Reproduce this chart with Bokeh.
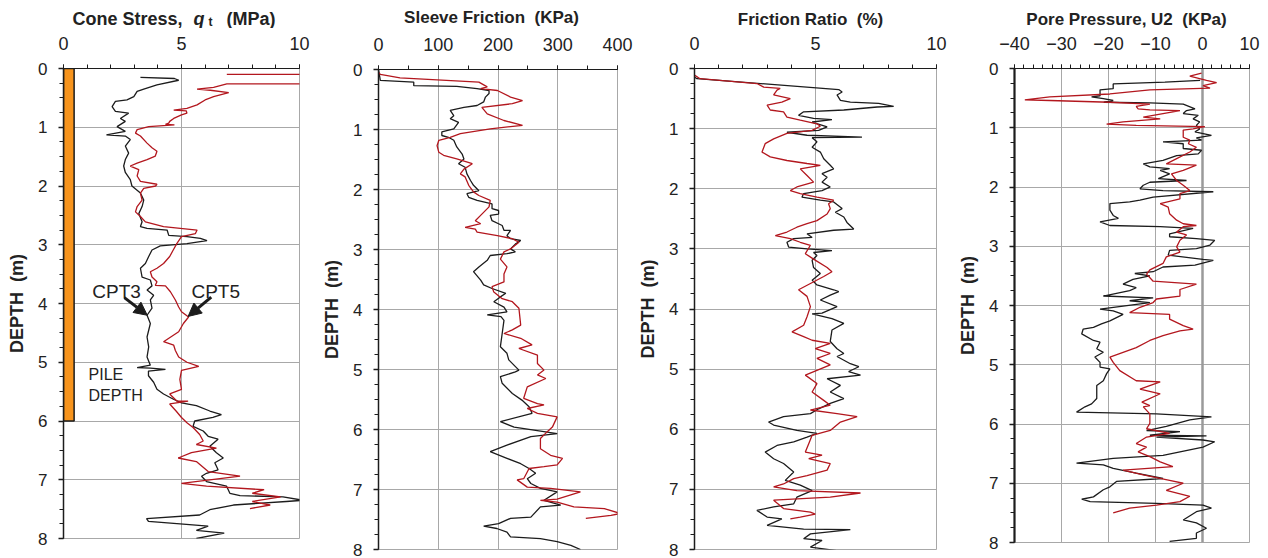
from bokeh.plotting import figure
from bokeh.layouts import row, column
from bokeh.models import Range1d, FixedTicker, Label, Arrow, NormalHead, Span
from bokeh.embed import file_html
from bokeh.resources import INLINE

# ---------------- DATA ----------------
depth_ticks = [0, 1, 2, 3, 4, 5, 6, 7, 8]

# Cone stress qt (MPa)
qt_cpt3_depth = [0.15, 0.17, 0.2, 0.28, 0.35, 0.39, 0.48, 0.535, 0.56, 0.65, 0.73, 0.76, 0.85, 0.9, 0.99, 1.07, 1.13, 1.15, 1.21, 1.32, 1.44, 1.55, 1.66, 1.77, 1.89, 2.0, 2.12, 2.24, 2.35, 2.47, 2.61, 2.69, 2.72, 2.75, 2.84, 2.86, 2.89, 2.93, 2.98, 3.02, 3.09, 3.2, 3.32, 3.4, 3.55, 3.6, 3.7, 3.77, 3.86, 3.94, 4.08, 4.2, 4.34, 4.57, 4.74, 4.91, 5.05, 5.09, 5.1, 5.12, 5.15, 5.23, 5.34, 5.46, 5.54, 5.63, 5.69, 5.74, 5.83, 5.89, 5.94, 6.0, 6.09, 6.17, 6.26, 6.31, 6.43, 6.54, 6.63, 6.71, 6.83, 6.89, 6.94, 7.03, 7.11, 7.23, 7.27, 7.29, 7.35, 7.37, 7.43, 7.51, 7.6, 7.66, 7.71, 7.75, 7.79, 7.86, 7.91, 8.0]
qt_cpt3_value = [3.26, 4.7, 4.88, 3.96, 3.4, 3.12, 2.98, 2.69, 2.2, 2.06, 2.2, 2.76, 2.41, 2.62, 2.27, 2.62, 1.82, 2.62, 2.83, 2.62, 2.76, 2.62, 2.55, 2.62, 2.83, 2.9, 3.26, 3.4, 3.33, 3.19, 3.33, 3.26, 3.54, 4.39, 4.46, 5.23, 5.8, 6.08, 5.23, 4.1, 3.75, 3.61, 3.47, 3.26, 3.33, 3.68, 3.75, 3.54, 3.82, 3.68, 3.75, 3.54, 3.68, 3.54, 3.61, 3.54, 3.68, 3.12, 3.68, 4.32, 3.6, 3.6, 3.82, 3.96, 4.24, 4.66, 5.0, 5.63, 6.2, 6.69, 6.33, 5.56, 5.49, 5.92, 6.13, 6.55, 6.2, 6.48, 6.77, 6.41, 6.55, 6.06, 5.85, 6.06, 6.91, 7.05, 7.48, 9.3, 10.15, 9.44, 7.2, 6.2, 5.77, 3.52, 3.6, 4.94, 6.13, 5.63, 6.81, 5.63]
qt_cpt5_depth = [0.1, 0.1, 0.26, 0.26, 0.32, 0.35, 0.37, 0.41, 0.48, 0.535, 0.62, 0.68, 0.71, 0.72, 0.76, 0.79, 0.85, 0.9, 0.93, 0.95, 0.96, 0.99, 1.04, 1.1, 1.15, 1.27, 1.35, 1.41, 1.49, 1.55, 1.61, 1.66, 1.72, 1.83, 1.92, 1.97, 2.0, 2.04, 2.12, 2.24, 2.35, 2.44, 2.52, 2.61, 2.69, 2.75, 2.81, 2.86, 2.98, 3.09, 3.2, 3.32, 3.4, 3.46, 3.55, 3.63, 3.69, 3.7, 3.8, 3.94, 4.06, 4.14, 4.23, 4.34, 4.48, 4.65, 4.71, 4.8, 4.91, 5.0, 5.07, 5.14, 5.29, 5.46, 5.54, 5.66, 5.66, 5.71, 5.83, 5.94, 6.03, 6.11, 6.23, 6.34, 6.4, 6.46, 6.54, 6.63, 6.69, 6.86, 6.94, 7.06, 7.11, 7.17, 7.23, 7.29, 7.37, 7.43, 7.49]
qt_cpt5_value = [6.92, 10.4, 10.4, 6.92, 6.36, 5.66, 6.22, 7.0, 6.36, 6.0, 5.66, 5.23, 4.67, 5.2, 5.23, 5.0, 4.67, 4.5, 4.46, 4.32, 4.7, 3.61, 3.12, 3.05, 3.26, 3.54, 3.75, 3.96, 3.89, 3.54, 3.12, 2.83, 3.19, 3.12, 3.26, 3.96, 3.9, 3.4, 3.26, 3.33, 3.12, 3.05, 3.26, 3.47, 4.24, 5.66, 5.59, 5.0, 4.8, 4.65, 4.5, 4.24, 3.96, 3.68, 3.75, 3.96, 3.89, 4.32, 4.53, 4.74, 4.88, 5.0, 5.3, 5.08, 4.88, 4.24, 4.67, 4.74, 4.88, 5.23, 5.73, 5.0, 4.93, 5.0, 4.5, 4.8, 5.28, 4.5, 4.77, 5.0, 5.23, 5.49, 5.77, 5.92, 5.63, 6.48, 5.42, 4.86, 5.63, 6.13, 7.48, 5.0, 6.06, 8.5, 8.0, 9.2, 8.0, 8.76, 7.9]
pile_top = [0.0]
pile_bottom = [6.0]
pile_width = [0.45]

# Sleeve friction (KPa)
fs_cpt3_depth = [0.0, 0.12, 0.18, 0.21, 0.27, 0.28, 0.32, 0.35, 0.4, 0.46, 0.54, 0.6, 0.63, 0.68, 0.77, 0.82, 0.88, 0.99, 1.04, 1.1, 1.13, 1.18, 1.29, 1.41, 1.49, 1.57, 1.63, 1.74, 1.85, 1.93, 2.02, 2.07, 2.13, 2.18, 2.24, 2.32, 2.35, 2.41, 2.43, 2.52, 2.6, 2.68, 2.68, 2.77, 2.82, 2.85, 2.91, 2.99, 3.04, 3.07, 3.1, 3.18, 3.29, 3.37, 3.51, 3.59, 3.65, 3.73, 3.79, 3.87, 3.96, 4.04, 4.09, 4.12, 4.18, 4.4, 4.62, 4.73, 4.84, 5.01, 5.04, 5.12, 5.23, 5.4, 5.51, 5.62, 5.73, 5.87, 5.96, 6.07, 6.12, 6.26, 6.37, 6.48, 6.57, 6.65, 6.73, 6.82, 6.9, 6.98, 7.04, 7.18, 7.26, 7.29, 7.46, 7.48, 7.57, 7.61, 7.65, 7.71, 7.79, 7.82, 7.87, 7.93, 8.0]
fs_cpt3_value = [0, 2, 3, 59, 59, 131, 165, 185, 185, 179, 176, 165, 143, 120, 126, 120, 134, 126, 106, 106, 117, 126, 131, 140, 143, 134, 145, 148, 154, 159, 168, 148, 151, 165, 190, 190, 201, 201, 187, 190, 207, 210, 221, 215, 221, 238, 229, 221, 229, 215, 187, 182, 168, 159, 171, 176, 190, 213, 204, 193, 210, 215, 182, 205, 210, 207, 204, 215, 218, 235, 229, 204, 207, 224, 240, 252, 257, 204, 227, 299, 255, 215, 187, 215, 238, 252, 263, 249, 255, 271, 299, 277, 305, 271, 255, 221, 201, 176, 198, 215, 221, 271, 299, 322, 338]
fs_cpt5_depth = [0.05, 0.08, 0.14, 0.21, 0.29, 0.32, 0.35, 0.46, 0.52, 0.57, 0.63, 0.74, 0.85, 0.93, 0.99, 1.07, 1.13, 1.18, 1.27, 1.38, 1.43, 1.49, 1.57, 1.66, 1.74, 1.79, 1.93, 2.04, 2.1, 2.18, 2.29, 2.41, 2.52, 2.57, 2.63, 2.66, 2.71, 2.77, 2.82, 2.88, 2.99, 3.04, 3.16, 3.29, 3.41, 3.54, 3.62, 3.71, 3.82, 3.87, 3.98, 4.26, 4.34, 4.4, 4.48, 4.59, 4.65, 4.76, 4.9, 5.01, 5.09, 5.15, 5.29, 5.48, 5.57, 5.59, 5.65, 5.73, 5.79, 5.96, 6.04, 6.15, 6.32, 6.43, 6.48, 6.59, 6.62, 6.65, 6.82, 6.84, 6.96, 6.98, 7.04, 7.16, 7.18, 7.21, 7.29, 7.32, 7.4, 7.43, 7.48]
fs_cpt5_value = [0, 3, 36, 168, 182, 171, 199, 221, 241, 224, 173, 182, 210, 241, 187, 137, 120, 101, 98, 101, 109, 131, 157, 143, 137, 145, 151, 159, 168, 187, 185, 173, 162, 171, 145, 162, 165, 199, 224, 235, 221, 210, 204, 215, 210, 210, 190, 193, 207, 224, 235, 238, 224, 210, 238, 257, 235, 266, 266, 277, 266, 280, 249, 243, 266, 277, 249, 266, 299, 291, 282, 271, 271, 288, 308, 299, 277, 252, 243, 232, 249, 288, 338, 299, 271, 299, 327, 378, 405, 389, 347]

# Friction ratio (%)
fr_cpt3_depth = [0.14, 0.17, 0.35, 0.39, 0.44, 0.53, 0.56, 0.58, 0.63, 0.64, 0.69, 0.72, 0.78, 0.83, 0.85, 0.89, 0.97, 1.03, 1.06, 1.11, 1.14, 1.15, 1.22, 1.31, 1.39, 1.5, 1.61, 1.67, 1.75, 1.81, 1.89, 1.97, 2.03, 2.08, 2.14, 2.19, 2.22, 2.33, 2.39, 2.47, 2.56, 2.67, 2.69, 2.75, 2.81, 2.83, 2.89, 2.97, 3.0, 3.03, 3.06, 3.11, 3.19, 3.31, 3.41, 3.52, 3.6, 3.68, 3.71, 3.77, 3.85, 3.96, 4.07, 4.08, 4.16, 4.24, 4.35, 4.54, 4.66, 4.74, 4.79, 4.91, 4.96, 5.04, 5.1, 5.16, 5.27, 5.38, 5.49, 5.57, 5.66, 5.74, 5.79, 5.88, 5.93, 6.02, 6.07, 6.13, 6.21, 6.27, 6.38, 6.49, 6.57, 6.71, 6.85, 6.93, 7.02, 7.13, 7.24, 7.29, 7.35, 7.46, 7.49, 7.6, 7.66, 7.67, 7.74, 7.82, 7.85, 7.96, 8.02]
fr_cpt3_value = [0, 0.1, 5.96, 6.1, 5.89, 6.03, 6.44, 7.61, 8.23, 7.55, 6.17, 4.51, 4.3, 4.92, 5.68, 4.86, 5.48, 5.13, 3.82, 4.65, 6.92, 4.86, 5.06, 4.86, 5.2, 5.34, 5.61, 5.75, 5.27, 5.48, 5.27, 5.61, 5.27, 4.51, 4.44, 5.2, 5.75, 6.1, 5.82, 6.17, 6.3, 6.58, 5.75, 4.65, 4.86, 4.1, 3.82, 3.89, 4.65, 5.68, 4.92, 5.06, 4.86, 4.92, 5.2, 4.86, 5.06, 5.75, 5.96, 5.61, 5.2, 5.89, 5.27, 4.86, 5.68, 6.17, 5.68, 5.61, 5.89, 6.17, 5.89, 6.44, 6.79, 6.37, 6.86, 5.48, 6.03, 5.61, 6.17, 5.61, 5.13, 4.79, 3.68, 3.06, 3.27, 4.23, 5.06, 4.65, 4.1, 3.41, 2.92, 3.27, 3.68, 4.1, 3.75, 4.37, 4.86, 4.23, 4.1, 3.27, 2.58, 3.0, 3.61, 3.0, 4.51, 6.44, 4.79, 4.51, 5.27, 4.79, 5.89]
fr_cpt5_depth = [0.11, 0.17, 0.25, 0.31, 0.33, 0.36, 0.44, 0.5, 0.56, 0.61, 0.69, 0.72, 0.81, 0.86, 0.92, 0.96, 1.03, 1.08, 1.17, 1.25, 1.39, 1.47, 1.53, 1.58, 1.61, 1.67, 1.78, 1.89, 1.97, 2.03, 2.08, 2.14, 2.19, 2.25, 2.33, 2.42, 2.53, 2.58, 2.64, 2.72, 2.78, 2.83, 2.89, 2.94, 3.08, 3.17, 3.31, 3.38, 3.46, 3.68, 3.79, 3.96, 4.13, 4.27, 4.38, 4.46, 4.52, 4.57, 4.66, 4.74, 4.82, 4.93, 5.1, 5.24, 5.38, 5.52, 5.6, 5.68, 5.74, 5.79, 5.88, 6.02, 6.1, 6.24, 6.38, 6.43, 6.49, 6.57, 6.68, 6.77, 6.82, 6.91, 6.96, 7.02, 7.06, 7.13, 7.18, 7.32, 7.38, 7.41, 7.46, 7.49]
fr_cpt5_value = [0, 0.23, 2.58, 2.86, 3.54, 3.41, 3.27, 3.96, 3.61, 3.0, 3.13, 3.68, 3.82, 4.37, 5.06, 5.2, 4.86, 3.82, 3.27, 2.92, 2.79, 3.13, 3.82, 4.65, 5.2, 4.37, 4.65, 4.92, 4.23, 3.96, 4.37, 5.06, 5.75, 5.54, 5.61, 5.48, 5.06, 4.65, 4.23, 3.82, 3.34, 3.96, 4.37, 4.79, 4.58, 4.92, 5.48, 5.68, 5.34, 4.3, 4.65, 4.79, 4.65, 4.51, 4.03, 4.51, 4.86, 5.61, 4.99, 5.61, 5.06, 5.61, 4.58, 5.06, 4.86, 5.34, 5.61, 4.79, 5.89, 6.72, 6.03, 5.61, 4.86, 4.72, 4.58, 5.27, 4.72, 5.61, 5.48, 4.65, 4.1, 3.68, 3.27, 4.23, 6.86, 5.61, 3.27, 3.68, 4.79, 4.99, 4.37, 3.96]

# Pore pressure U2 (KPa)
u2_cpt3_depth = [0.2, 0.23, 0.26, 0.34, 0.36, 0.46, 0.48, 0.51, 0.54, 0.57, 0.58, 0.6, 0.68, 0.71, 0.76, 0.79, 0.85, 0.9, 0.96, 1.02, 1.07, 1.13, 1.17, 1.21, 1.24, 1.27, 1.35, 1.38, 1.44, 1.47, 1.55, 1.61, 1.66, 1.69, 1.72, 1.78, 1.86, 1.89, 1.92, 1.97, 2.03, 2.06, 2.08, 2.17, 2.22, 2.25, 2.28, 2.39, 2.48, 2.53, 2.59, 2.65, 2.67, 2.7, 2.79, 2.84, 2.87, 2.9, 2.98, 3.04, 3.07, 3.15, 3.22, 3.24, 3.32, 3.35, 3.43, 3.46, 3.5, 3.56, 3.64, 3.7, 3.75, 3.84, 3.87, 3.92, 3.95, 4.01, 4.06, 4.09, 4.15, 4.26, 4.31, 4.37, 4.4, 4.48, 4.59, 4.62, 4.73, 4.79, 4.87, 4.96, 5.04, 5.07, 5.15, 5.27, 5.35, 5.57, 5.66, 5.71, 5.8, 5.83, 5.88, 5.93, 6.04, 6.11, 6.13, 6.19, 6.2, 6.22, 6.27, 6.3, 6.39, 6.53, 6.58, 6.66, 6.69, 6.75, 6.83, 6.92, 6.97, 7.06, 7.11, 7.23, 7.27, 7.31, 7.34, 7.37, 7.42, 7.48, 7.62, 7.67, 7.76, 7.84, 7.93, 7.98]
u2_cpt3_value = [-0.5, -8, -19, -19, -21.8, -21.8, -23.6, -21.1, -19, -21, -11.2, -4.1, -1.6, -3.4, -4.1, -0.9, -2.0, -0.6, -1.3, -0.6, -1.6, 1.9, -1.3, -0.2, -8.4, -4.1, -4.1, -0.2, -0.9, -5.5, -8.4, -12.6, -11.2, -7, -9, -7, -9.4, -3.4, -11.2, -12.6, -13.3, -8.4, 2.3, -10.5, -13.3, -15.5, -19.7, -19.7, -19, -17.9, -21.8, -19.7, -9, -2, -7, -7, -1.3, 2.6, 1.6, -1.3, -7, -7.3, 0.1, 2.3, -1.6, -8.4, -10.5, -14.4, -11.2, -14.8, -16.9, -14.1, -15.5, -21.1, -10.5, -15.5, -11.2, -16.9, -21.8, -19, -16.9, -19.7, -21.5, -23.2, -25.4, -25.7, -23.2, -21.8, -22.5, -21.1, -22.9, -21.8, -21.8, -19.7, -20.4, -21.1, -22.5, -22.5, -23.6, -25, -26.8, -9.8, 1.9, -2.7, -7.7, -11.9, -4.8, -11.2, 0.85, -9.8, 0.1, 2.6, 0.1, -8.4, -19, -26.8, -21.1, -19, -14.1, -8.4, -18.3, -19.7, -21.1, -23.2, -25.7, -23.9, -9.8, 0.1, 1.9, -1.3, -4.1, -1.3, 0.85, -1.3, -1.3, -7]
u2_cpt5_depth = [0.08, 0.13, 0.2, 0.24, 0.29, 0.33, 0.36, 0.43, 0.48, 0.53, 0.54, 0.57, 0.6, 0.64, 0.68, 0.7, 0.71, 0.79, 0.82, 0.85, 0.9, 0.94, 0.96, 0.98, 1.02, 1.04, 1.16, 1.21, 1.27, 1.33, 1.41, 1.52, 1.61, 1.63, 1.72, 1.78, 1.89, 1.97, 2.06, 2.11, 2.2, 2.28, 2.34, 2.45, 2.56, 2.62, 2.65, 2.67, 2.76, 2.81, 2.9, 3.01, 3.1, 3.18, 3.29, 3.4, 3.47, 3.59, 3.64, 3.73, 3.84, 3.89, 3.95, 4.03, 4.12, 4.15, 4.23, 4.34, 4.4, 4.43, 4.51, 4.59, 4.71, 4.79, 4.87, 4.96, 5.1, 5.27, 5.29, 5.41, 5.49, 5.63, 5.69, 5.71, 5.83, 5.99, 6.08, 6.16, 6.22, 6.33, 6.39, 6.47, 6.55, 6.64, 6.72, 6.78, 6.86, 6.95, 7.0, 7.12, 7.22, 7.31, 7.37, 7.42, 7.5]
u2_cpt5_value = [-0.2, -2.7, 0.85, 3, 0.1, 1.6, -11.2, -19.7, -32.5, -37.8, -32.5, -19.7, -11.2, -14.1, -13.7, -11.2, -4.8, -10.5, -12.6, -9, -16.9, -20.4, -14.1, 0.5, -2, -4.1, -4.1, -2.7, -3, -1.3, -2.7, -5.5, -7.7, -1.3, -4.1, -6.6, -5.5, -4.1, -2.7, -4.8, -4.8, -9, -7.3, -7, -5.5, -4.1, -1.3, -4.1, -5.5, -3.4, -4.8, -5.5, -4.8, -7.7, -8.4, -11.2, -11.9, -10.5, -1.3, -4.8, -4.8, -9.8, -10.5, -13.3, -15.5, -7, -7, -4.1, -2, -4.8, -8.4, -11.2, -14.1, -16.9, -19.7, -19, -17.6, -14.1, -9, -13.3, -9, -12.9, -11.2, -12.6, -11.2, -11.2, -11.9, -7, -11.9, -14.1, -11.9, -13.7, -11.2, -9, -6.3, -16.9, -12.6, -7, -4.1, -7.7, -2.7, -4.8, -9.8, -15.5, -19]

# ---------------- STYLE ----------------
FONT = "Liberation Sans"
INK = "#1c1c1c"
RED = "#b3171e"
GRID = "#a8a8a8"
ORANGE = "#f7941d"
STRIP_H = 28
H = 558 - STRIP_H


def make_panel(width, border, x_range, xticks, xminor, left_width=1.5):
    left, right, top, bottom = border
    p = figure(width=width, height=H, x_range=Range1d(*x_range), y_range=Range1d(8, 0),
               title=None, x_axis_location="above", output_backend="svg", toolbar_location=None,
               min_border_left=left, min_border_right=right,
               min_border_top=top - STRIP_H, min_border_bottom=bottom)
    p.background_fill_color = "white"
    p.border_fill_color = "white"
    p.outline_line_color = GRID
    p.outline_line_width = 1
    xt = FixedTicker(ticks=xticks, minor_ticks=xminor)
    yt = FixedTicker(ticks=depth_ticks, minor_ticks=[i * 0.25 for i in range(33)])
    p.xaxis.ticker = xt
    p.yaxis.ticker = yt
    p.xgrid.ticker = xt
    p.ygrid.ticker = yt
    p.xgrid.grid_line_color = GRID
    p.ygrid.grid_line_color = GRID
    for ax in (p.xaxis[0], p.yaxis[0]):
        ax.major_label_text_font = FONT
        ax.major_label_text_color = "#222222"
        ax.major_tick_in = 0
        ax.minor_tick_in = 0
        ax.major_tick_line_color = INK
        ax.minor_tick_line_color = INK
        ax.axis_line_color = INK
    p.xaxis.major_label_text_font_size = "18px"
    p.yaxis.major_label_text_font_size = "17px"
    p.xaxis.major_tick_out = 4
    p.xaxis.minor_tick_out = 4
    p.xaxis.major_label_standoff = 15
    p.xaxis.axis_line_width = 1
    p.yaxis.major_tick_out = 5
    p.yaxis.minor_tick_out = 4
    p.yaxis.major_label_standoff = 11
    p.yaxis.axis_line_width = left_width
    p.yaxis.major_tick_line_width = 1.3
    p.yaxis.axis_label = "DEPTH \u00a0(m)"
    p.yaxis.axis_label_text_font = FONT
    p.yaxis.axis_label_text_font_style = "bold"
    p.yaxis.axis_label_text_font_size = "18px"
    p.yaxis.axis_label_text_color = "#222222"
    p.yaxis.axis_label_standoff = 8
    return p


# ---- Title strip (pixel-like coordinates) ----
strip = figure(width=1268, height=STRIP_H, x_range=Range1d(0, 1268), y_range=Range1d(STRIP_H, 0),
               title=None, x_axis_location=None, y_axis_location=None, output_backend="svg",
               toolbar_location=None, min_border=0, min_border_left=0, min_border_right=0,
               min_border_top=0, min_border_bottom=0)
strip.outline_line_color = None
strip.xgrid.visible = False
strip.ygrid.visible = False


def strip_text(x, y, text, style="bold", size="17px", align="center"):
    strip.add_layout(Label(x=x, y=y, text=text, text_font=FONT, text_font_style=style,
                           text_font_size=size, text_align=align, text_baseline="alphabetic",
                           text_color="#222222"))


strip_text(182, 18.5, "Cone Stress,", size="18px", align="right")
strip_text(193, 18.5, "q", style="bold italic", size="18px", align="left")
strip_text(208, 21, "t", size="12px", align="left")
strip_text(226, 18.5, "(MPa)", size="18px", align="left")
strip_text(491, 16.7, "Sleeve Friction \u00a0(KPa)")
strip_text(810, 18.5, "Friction Ratio \u00a0(%)")
strip_text(1126, 18.5, "Pore Pressure, U2 \u00a0(KPa)")

# ---- Panel 1: Cone stress ----
p1 = make_panel(318, (63, 19, 68, 20), (0, 10), [0, 5, 10], list(range(11)))
p1.quad(left=[0], right=pile_width, top=pile_top, bottom=pile_bottom,
        fill_color=ORANGE, line_color=INK, line_width=1.5)
p1.line(qt_cpt3_value, qt_cpt3_depth, line_color=INK, line_width=1.3)
p1.line(qt_cpt5_value, qt_cpt5_depth, line_color=RED, line_width=1.3)
for txt, x in (("CPT3", 1.22), ("CPT5", 5.42)):
    p1.add_layout(Label(x=x, y=3.79, text=txt, text_font=FONT, text_font_size="19px",
                        text_baseline="alphabetic", text_color="#222222"))
p1.add_layout(Arrow(end=NormalHead(size=13, fill_color=INK, line_color=INK),
                    x_start=2.58, y_start=3.9, x_end=3.55, y_end=4.2,
                    line_color=INK, line_width=3))
p1.add_layout(Arrow(end=NormalHead(size=13, fill_color=INK, line_color=INK),
                    x_start=6.26, y_start=3.89, x_end=5.28, y_end=4.22,
                    line_color=INK, line_width=3))
p1.add_layout(Label(x=1.06, y=5.2, text="PILE", text_font=FONT, text_font_size="16px",
                    text_baseline="alphabetic", text_color="#222222"))
p1.add_layout(Label(x=1.06, y=5.57, text="DEPTH", text_font=FONT, text_font_size="16px",
                    text_baseline="alphabetic", text_color="#222222"))

# ---- Panel 2: Sleeve friction ----
p2 = make_panel(316, (60, 17, 69, 9), (0, 400), [0, 100, 200, 300, 400], list(range(0, 401, 50)))
p2.line(fs_cpt3_value, fs_cpt3_depth, line_color=INK, line_width=1.3)
p2.line(fs_cpt5_value, fs_cpt5_depth, line_color=RED, line_width=1.3)

# ---- Panel 3: Friction ratio ----
p3 = make_panel(321, (60, 19, 68, 9), (0, 10), [0, 5, 10], list(range(11)))
p3.line(fr_cpt3_value, fr_cpt3_depth, line_color=INK, line_width=1.3)
p3.line(fr_cpt5_value, fr_cpt5_depth, line_color=RED, line_width=1.3)

# ---- Panel 4: Pore pressure ----
p4 = make_panel(313, (59, 19, 68, 16), (-40, 10), [-40, -30, -20, -10, 0, 10],
                list(range(-40, 11, 2)), left_width=2.2)
p4.add_layout(Span(location=0, dimension="height", line_color="#9a9a9a", line_width=2.5,
                   level="underlay"))
p4.line(u2_cpt3_value, u2_cpt3_depth, line_color=INK, line_width=1.3)
p4.line(u2_cpt5_value, u2_cpt5_depth, line_color=RED, line_width=1.3)

panels = row(column(p1), column(p2), column(p3), column(p4), spacing=0)
layout = column(strip, panels, spacing=0)
open("out.html", "w").write(file_html(layout, INLINE))
